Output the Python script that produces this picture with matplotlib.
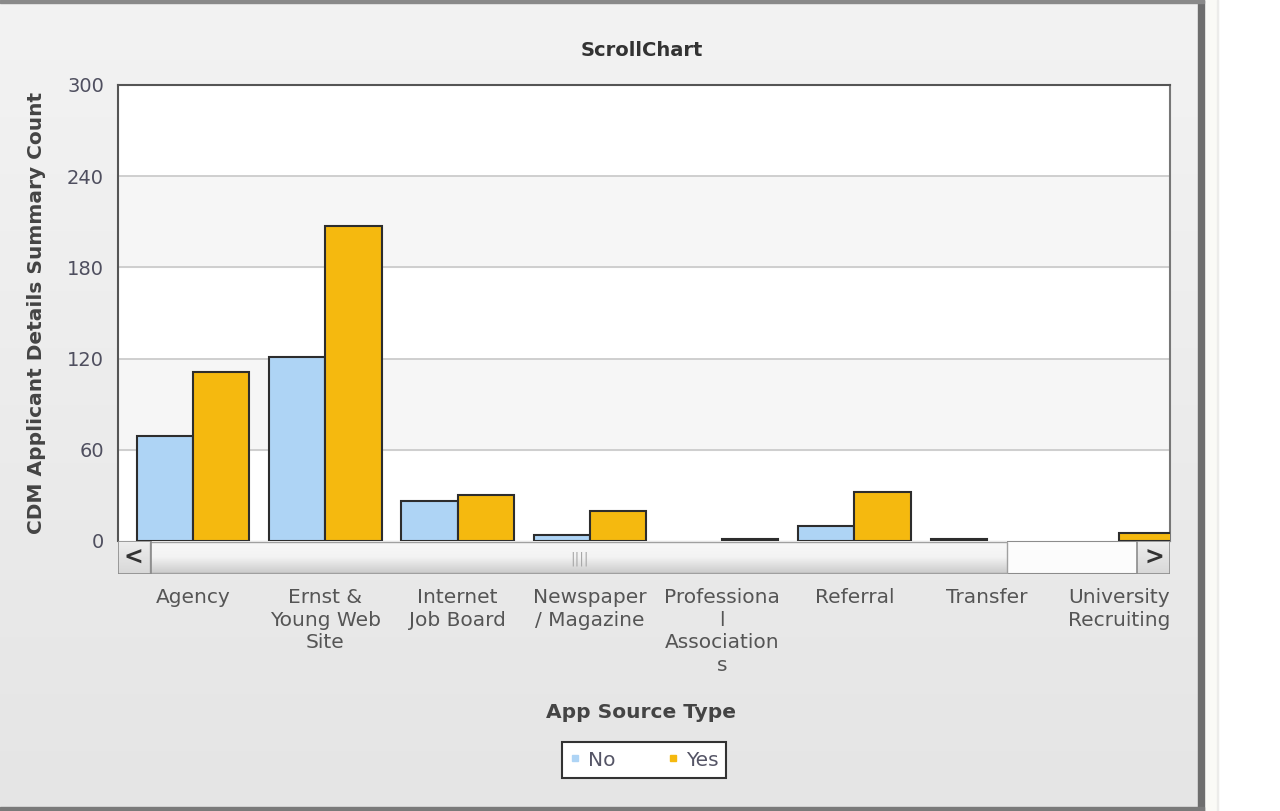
import numpy as np
import matplotlib
matplotlib.use("Agg")
import matplotlib.pyplot as plt
from matplotlib.patches import Rectangle
from matplotlib.transforms import Bbox, TransformedBbox

plt.rcParams["font.family"] = ["DejaVu Sans"]

categories = ["Agency", "Ernst &\nYoung Web\nSite", "Internet\nJob Board", "Newspaper\n/ Magazine",
              "Professiona\nl\nAssociation\ns", "Referral", "Transfer", "University\nRecruiting"]
no_counts = [69, 121, 26, 4, 0, 10, 1, 0]
yes_counts = [111, 207, 30, 20, 1, 32, 0, 5]
y_ticks = [0, 60, 120, 180, 240, 300]

W, H = 1280, 811
fig = plt.figure(figsize=(W / 100, H / 100), dpi=100)
fig.patch.set_facecolor("white")

def fx(px):
    return px / W

def fy(px):
    return 1 - px / H

# panel background with soft vertical gradient
bg = fig.add_axes([0, 0, fx(1200), 1], zorder=-10)
grad = np.linspace(0, 1, 256).reshape(-1, 1)
bg.imshow(grad, aspect="auto", cmap=matplotlib.colors.LinearSegmentedColormap.from_list(
    "g", ["#f3f3f3", "#e5e5e5"]), extent=[0, 1, 0, 1])
bg.set_axis_off()

# panel borders
fig.patches.append(Rectangle((fx(1198), 0), fx(6), 1, transform=fig.transFigure, color="#6e6e6e", zorder=5))
fig.patches.append(Rectangle((0, fy(3)), fx(1204), fy(0) - fy(3), transform=fig.transFigure, color="#8a8a8a", zorder=5))
fig.patches.append(Rectangle((0, 0), fx(1204), fy(807), transform=fig.transFigure, color="#7a7a7a", zorder=5))
fig.patches.append(Rectangle((fx(1204), 0), fx(14), 1, transform=fig.transFigure, color="#fafaf6", zorder=4))
fig.patches.append(Rectangle((fx(1217), 0), fx(1), 1, transform=fig.transFigure, color="#ececea", zorder=4))

# main plot
left, right, top, bottom = 118, 1170, 85, 541
ax = fig.add_axes([fx(left), fy(bottom), fx(right) - fx(left), fy(top) - fy(bottom)])
ax.set_facecolor("white")
x = np.arange(len(categories))
bw = 0.425
ax.axhspan(180, 240, color="#f6f6f6", zorder=0)
ax.axhspan(60, 120, color="#f6f6f6", zorder=0)
for t in y_ticks[1:-1]:
    ax.axhline(t, color="#c8c8c8", lw=1.2, zorder=1)
ax.bar(x - bw / 2, no_counts, bw, color="#aed4f5", edgecolor="#2d2d2d",
       lw=[1.5 if v else 0 for v in no_counts], label="No", zorder=3)
ax.bar(x + bw / 2, yes_counts, bw, color="#f5b90f", edgecolor="#2d2d2d",
       lw=[1.5 if v else 0 for v in yes_counts], label="Yes", zorder=3)
ax.set_xlim(-0.567, 7.385)
ax.set_ylim(0, 300)
ax.set_yticks(y_ticks)
ax.tick_params(axis="y", length=0, pad=10, labelsize=14, labelcolor="#4f4f5f")
ax.set_xticks(x)
ax.set_xticklabels(categories, fontsize=14.5, color="#555555", linespacing=1.23, va="top")
ax.tick_params(axis="x", length=0, pad=34)
clip = TransformedBbox(Bbox([[0, 0], [fx(right), 1]]), fig.transFigure)
for lab in ax.get_xticklabels():
    lab.set_clip_on(True)
    lab.set_clip_box(clip)
for s in ["left", "top"]:
    ax.spines[s].set_color("#555555")
    ax.spines[s].set_linewidth(1.5)
ax.spines["right"].set_color("#777777")
ax.spines["right"].set_linewidth(1.5)
ax.spines["bottom"].set_color("#888888")

ax.set_ylabel("CDM Applicant Details Summary Count", fontsize=14.5, fontweight="bold", color="#444444",
              va="center")
ax.yaxis.set_label_coords((fx(37) - fx(left)) / (fx(right) - fx(left)), 0.5)

# scrollbar
sb = fig.add_axes([fx(left), fy(574), fx(right) - fx(left), fy(541) - fy(574)])
sb.set_axis_off()
sb.add_patch(Rectangle((0, 0), right - left, 33, facecolor="#fcfcfc", edgecolor="#8c8c8c", lw=1.5))
thumb = np.linspace(0, 1, 64).reshape(-1, 1)
sb.imshow(thumb, aspect="auto", extent=[32, 889, 1, 32],
          cmap=matplotlib.colors.LinearSegmentedColormap.from_list("t", ["#f8f8f8", "#f3f3f3", "#cccccc"]),
          zorder=2)
sb.add_patch(Rectangle((32, 1), 857, 31, facecolor="none", edgecolor="#a0a0a0", lw=1, zorder=3))
sb.text(462, 15, "||||", ha="center", va="center", fontsize=10, color="#a8a8a8", zorder=4)
for bx in [0, right - left - 33]:
    sb.imshow(thumb[::-1], aspect="auto", extent=[bx, bx + 33, 0, 33],
              cmap=matplotlib.colors.LinearSegmentedColormap.from_list("b", ["#d8d8d8", "#eeeeee"]), zorder=2)
    sb.add_patch(Rectangle((bx, 0), 33, 33, facecolor="none", edgecolor="#8c8c8c", lw=1.2, zorder=3))
sb.text(15, 16, "<", ha="center", va="center", fontsize=17, fontweight="bold", color="#333333", zorder=4)
sb.text(right - left - 16, 16, ">", ha="center", va="center", fontsize=17, fontweight="bold", color="#333333", zorder=4)
sb.set_xlim(0, right - left)
sb.set_ylim(0, 33)

# titles and legend
fig.text(fx(642), fy(50), "ScrollChart", ha="center", va="center", fontsize=14, fontweight="bold", color="#333333")
fig.text(fx(641), fy(712), "App Source Type", ha="center", va="center", fontsize=14.5, fontweight="bold", color="#444444")
handles = [plt.Line2D([], [], marker="s", ls="", color="#aed4f5", markersize=5),
           plt.Line2D([], [], marker="s", ls="", color="#f5b90f", markersize=5)]
leg = fig.legend(handles, ["No", "Yes"], loc="center", bbox_to_anchor=(fx(644), fy(760)), ncol=2,
                 fontsize=14.5, frameon=True, fancybox=False, handlelength=0.5, handletextpad=0.4,
                 columnspacing=2.6, borderpad=0.4, borderaxespad=0, handleheight=0.7)
leg.get_frame().set_edgecolor("#333333")
leg.get_frame().set_linewidth(1.5)
leg.get_frame().set_facecolor("white")
leg.get_frame().set_alpha(1)
leg._legend_box.sep = 0
for t in leg.get_texts():
    t.set_color("#555566")
leg.set_bbox_to_anchor((fx(644), fy(760)), transform=fig.transFigure)

fig.savefig("out.png", dpi=100)
